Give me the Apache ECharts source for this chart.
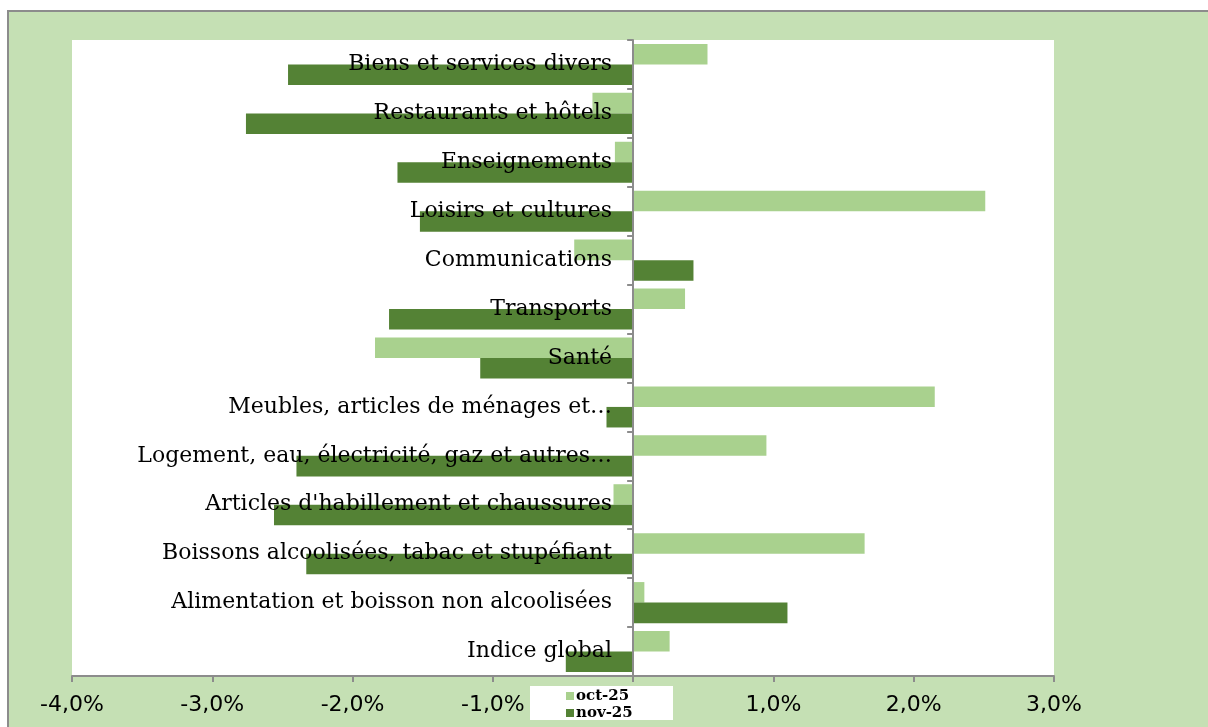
<!DOCTYPE html>
<html>
<head>
<meta charset="utf-8">
<script src="https://cdn.jsdelivr.net/npm/echarts@6/dist/echarts.min.js"></script>
<style>
html,body{margin:0;padding:0;background:#ffffff;}
#chart{width:1208px;height:727px;}
</style>
</head>
<body>
<div id="chart"></div>
<script>
const categories = [
  "Biens et services divers",
  "Restaurants et hôtels",
  "Enseignements",
  "Loisirs et cultures",
  "Communications",
  "Transports",
  "Santé",
  "Meubles, articles de ménages et…",
  "Logement, eau, électricité, gaz et autres…",
  "Articles d'habillement et chaussures",
  "Boissons alcoolisées, tabac et stupéfiant",
  "Alimentation et boisson non alcoolisées",
  "Indice global"
];
const oct25 = [0.53, -0.29, -0.13, 2.51, -0.42, 0.37, -1.84, 2.15, 0.95, -0.14, 1.65, 0.08, 0.26];
const nov25 = [-2.46, -2.76, -1.68, -1.52, 0.43, -1.74, -1.09, -0.19, -2.40, -2.56, -2.33, 1.10, -0.48];
const seriesNames = ["oct-25", "nov-25"];

const chart = echarts.init(document.getElementById('chart'), null, {renderer: 'canvas'});
const option = {
  backgroundColor: '#ffffff',
  animation: false,
  graphic: [
    {type: 'rect', z: -10, shape: {x: 8, y: 11, width: 1210, height: 730},
     style: {fill: '#c5e0b4', stroke: '#8c8c8c', lineWidth: 2}},
    {type: 'rect', z: -9, shape: {x: 72, y: 40, width: 982, height: 636},
     style: {fill: '#ffffff'}},
    {type: 'rect', z: 50, shape: {x: 530, y: 686, width: 143, height: 34},
     style: {fill: '#ffffff'}}
  ],
  grid: {left: 72, right: 154, top: 40, bottom: 51, containLabel: false, outerBoundsMode: 'none'},
  legend: {
    orient: 'vertical', left: 566, top: 688, z: 100, padding: 0,
    itemWidth: 8, itemHeight: 8, itemGap: 1,
    icon: 'rect',
    textStyle: {fontFamily: 'DejaVu Serif', fontWeight: 'bold', fontSize: 15, lineHeight: 16, color: '#000', padding: [0,0,0,-3]},
    data: seriesNames
  },
  xAxis: {
    type: 'value', min: -4, max: 3, interval: 1,
    splitLine: {show: false},
    axisLine: {show: true, onZero: false, lineStyle: {color: '#8c8c8c', width: 2}},
    axisTick: {show: true, length: 6, lineStyle: {color: '#8c8c8c', width: 2}},
    axisLabel: {
      fontFamily: 'DejaVu Sans', fontSize: 22, color: '#000', margin: 18,
      formatter: v => v.toFixed(1).replace('.', ',') + '%'
    }
  },
  yAxis: {
    type: 'category', inverse: true, data: categories, z: 10,
    axisLine: {show: true, onZero: true, lineStyle: {color: '#8c8c8c', width: 2}},
    axisTick: {show: true, length: 6, lineStyle: {color: '#8c8c8c', width: 2}},
    axisLabel: {fontFamily: 'DejaVu Serif', fontSize: 22, color: '#000', margin: -540}
  },
  series: [
    {name: seriesNames[0], type: 'bar', data: oct25, barGap: '0%', barCategoryGap: '16%',
     itemStyle: {color: '#a9d18e'}},
    {name: seriesNames[1], type: 'bar', data: nov25, barGap: '0%', barCategoryGap: '16%',
     itemStyle: {color: '#548235'}}
  ]
};
chart.setOption(option);
</script>
</body>
</html>
